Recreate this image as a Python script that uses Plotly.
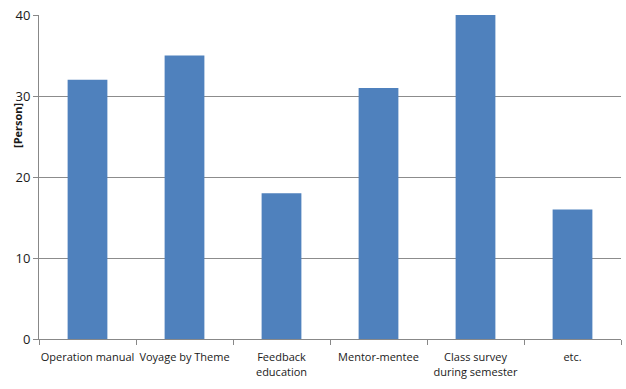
import plotly.graph_objects as go

categories = ["Operation manual", "Voyage by Theme", "Feedback<br>education",
              "Mentor-mentee", "Class survey<br>during semester", "etc."]
values = [32, 35, 18, 31, 40, 16]
y_ticks = [0, 10, 20, 30, 40]

fig = go.Figure(go.Bar(x=categories, y=values, marker_color="#4F81BD",
                       marker_line_width=0, width=0.41))

fig.update_layout(
    width=626, height=389,
    margin=dict(l=39, r=5, t=15, b=50),
    paper_bgcolor="white", plot_bgcolor="white",
    font=dict(family="Open Sans", size=12, color="#1a1a1a"),
    showlegend=False,
    bargap=0.59,
)
fig.update_xaxes(
    type="category", tickson="boundaries", ticks="outside", ticklen=5,
    tickcolor="#888", showline=True, linecolor="#888", linewidth=1,
    tickfont=dict(size=11, family="Open Sans"),
    tickangle=0, showgrid=False, automargin=False, ticklabelstandoff=8,
)
fig.update_yaxes(
    range=[0, 40], tickvals=y_ticks, ticks="outside", ticklen=5,
    tickcolor="#888", showline=True, linecolor="#888", linewidth=1,
    showgrid=True, gridcolor="#8c8c8c", gridwidth=1, zeroline=False,
    tickfont=dict(size=13, family="Open Sans"),
    automargin=False,
)
fig.add_annotation(
    text="<b>[Person]</b>", textangle=-90, xref="paper", yref="paper",
    x=(18 - 39) / 582, y=(339 - 126) / 324, showarrow=False,
    xanchor="center", yanchor="middle",
    font=dict(size=11, family="Open Sans", color="#1a1a1a"),
)
fig.write_html("out.html")
